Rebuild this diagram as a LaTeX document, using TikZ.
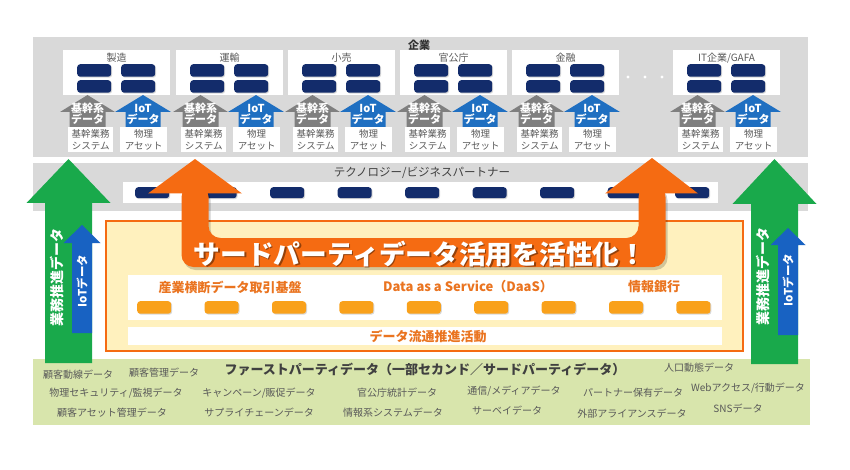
\documentclass[tikz,border=0pt]{standalone}
\usepackage{fontspec}
\setmainfont{Noto Sans CJK JP}
\usetikzlibrary{shadows}
\definecolor{PanelGray}{HTML}{D9D9D9}
\definecolor{Navy}{HTML}{132C6B}
\definecolor{ArrowGray}{HTML}{7F7F7F}
\definecolor{IoTBlue}{HTML}{1F6FC1}
\definecolor{BigGreen}{HTML}{19A94B}
\definecolor{BigBlue}{HTML}{1862C2}
\definecolor{BannerOrange}{HTML}{F56B12}
\definecolor{DashOrange}{HTML}{F9A11B}
\definecolor{PaleYellow}{HTML}{FFF1BE}
\definecolor{PaleGreen}{HTML}{D8E5AC}
\definecolor{TextGray}{HTML}{595959}
\definecolor{LabelOrange}{HTML}{EA7420}
% upward block arrow: colour, centre x, tip y, head base y, bottom y, head half, shaft half
\newcommand{\uparr}[7]{%
  \fill[#1] ({#2-#7},#5) -- ({#2-#7},#4) -- ({#2-#6},#4) -- (#2,#3)
    -- ({#2+#6},#4) -- ({#2+#7},#4) -- ({#2+#7},#5) -- cycle;}

\begin{document}
\begin{tikzpicture}[x=1pt, y=-1pt,
  cobox/.style={rectangle, fill=white, anchor=north west, inner sep=0pt,
                minimum width=107pt, minimum height=45pt},
  cell/.style={rectangle, rounded corners=3pt, fill=Navy, anchor=north west,
               inner sep=0pt, minimum width=34pt, minimum height=12.5pt,
               drop shadow={shadow xshift=1pt, shadow yshift=-1pt, opacity=0.3}},
  odash/.style={cell, fill=DashOrange},
  colabel/.style={font=\fontsize{10}{12}\selectfont, text=TextGray, inner sep=0pt},
  sysbox/.style={rectangle, fill=white, anchor=north west, inner sep=0pt,
                 minimum width=45pt, minimum height=25pt, align=center,
                 font=\fontsize{9.5}{12}\selectfont, text=TextGray},
  arrtext/.style={align=center, text=white, inner sep=0pt,
                  font=\bfseries\fontsize{11}{11}\selectfont},
  olabel/.style={font=\bfseries\fontsize{13}{15}\selectfont, text=LabelOrange, inner sep=0pt},
  datalabel/.style={font=\fontsize{10}{12}\selectfont, text=TextGray, inner sep=0pt}
]
  \useasboundingbox (0,0) rectangle (850,470);

  % companies
  \fill[PanelGray] (33,37) rectangle (808,157);
  \node[font=\bfseries\fontsize{11}{13}\selectfont, text=black!80] (kigyo) at (419,45) {企業};
  \foreach \x/\n [count=\i] in {63/製造,176/運輸,288/小売,400/官公庁,512/金融,673/{IT企業/GAFA}} {
    \node[cobox] (co\i) at (\x,50) {};
    \node[colabel] (con\i) at (\x+53.5,58) {\n};
    \node[cell] (caa\i) at (\x+14,64) {};
    \node[cell] (cab\i) at (\x+58,64) {};
    \node[cell] (cba\i) at (\x+14,80) {};
    \node[cell] (cbb\i) at (\x+58,80) {};
    \uparr{ArrowGray}{\x+24.5}{95}{112}{127}{27.5}{18}
    \uparr{IoTBlue}{\x+80}{95}{112}{127}{28}{17.5}
    \node[sysbox] (sa\i) at (\x+5,127) {基幹業務\\システム};
    \node[sysbox, minimum width=47pt] (sb\i) at (\x+57,127) {物理\\アセット};
    \node[arrtext] (ga\i) at (\x+24.5,114) {基幹系\\データ};
    \node[arrtext] (ba\i) at (\x+80,114) {IoT\\データ};
  }
  \foreach \d in {628,645,662}
    \fill[white] (\d,77) circle[radius=1.6pt];

  % technology partners
  \fill[PanelGray] (33,163) rectangle (808,211);
  \node[font=\fontsize{11.5}{13}\selectfont, text=black!75] (tech) at (422,173) {テクノロジー/ビジネスパートナー};
  \fill[white] (123,182) rectangle (718,203);
  \foreach \i in {0,...,8}
    \node[cell, minimum height=11pt] (td\i) at (135+67.5*\i,187) {};

  % data distribution box
  \filldraw[draw=BannerOrange, line width=2.5pt, fill=PaleYellow] (106,221) rectangle (743,351);
  \fill[white] (128,275) rectangle (722,320);
  \fill[white] (128,327) rectangle (722,345);
  \node[olabel] (sangyo) at (230,287) {産業横断データ取引基盤};
  \node[olabel] (daas) at (468,287) {Data as a Service（DaaS）};
  \node[olabel] (joho) at (654,287) {情報銀行};
  \foreach \i in {0,...,8}
    \node[odash] (od\i) at (137+67.4*\i,301) {};
  \node[olabel] (ryutsu) at (428,336) {データ流通推進活動};

  % first party data
  \fill[PaleGreen] (33,359) rectangle (810,425);
  \node[font=\bfseries\fontsize{13}{15}\selectfont, text=black!75] (fpd) at (425,369)
    {ファーストパーティデータ（一部セカンド／サードパーティデータ）};
  \node[datalabel] (d1) at (78,375) {顧客動線データ};
  \node[datalabel] (d2) at (164,373) {顧客管理データ};
  \node[datalabel] (d3) at (699,368) {人口動態データ};
  \node[datalabel] (d4) at (116,393) {物理セキュリティ/監視データ};
  \node[datalabel] (d5) at (259,393) {キャンペーン/販促データ};
  \node[datalabel] (d6) at (397,393) {官公庁統計データ};
  \node[datalabel] (d7) at (514,391) {通信/メディアデータ};
  \node[datalabel] (d8) at (633,393) {パートナー保有データ};
  \node[datalabel] (d9) at (748,388) {Webアクセス/行動データ};
  \node[datalabel] (d10) at (112,413) {顧客アセット管理データ};
  \node[datalabel] (d11) at (259,413) {サプライチェーンデータ};
  \node[datalabel] (d12) at (393,413) {情報系システムデータ};
  \node[datalabel] (d13) at (507,411) {サーベイデータ};
  \node[datalabel] (d14) at (632,414) {外部アライアンスデータ};
  \node[datalabel] (d15) at (738,409) {SNSデータ};

  % third party banner arrow
  \fill[black, opacity=0.18, xshift=2pt, yshift=-3pt, rounded corners=12pt]
    (181.5,185) -- (181.5,267) -- (665.5,267) -- (665.5,185) -- (638.5,185)
    -- (638.5,238) -- (208.5,238) -- (208.5,185) -- cycle;
  \fill[BannerOrange, rounded corners=12pt]
    (181.5,185) -- (181.5,267) -- (665.5,267) -- (665.5,185) -- (638.5,185)
    -- (638.5,238) -- (208.5,238) -- (208.5,185) -- cycle;
  \fill[BannerOrange] (148,193.5) -- (195,159) -- (242,193.5) -- cycle;
  \fill[BannerOrange] (605,193.5) -- (652,158) -- (698,193.5) -- cycle;
  \node[font=\bfseries\fontsize{26.7}{30}\selectfont, text=black, opacity=0.4] (bannershadow)
    at (421.5,255.5) {サードパーティデータ活用を活性化！};
  \node[font=\bfseries\fontsize{26.7}{30}\selectfont, text=white] (banner)
    at (420,254) {サードパーティデータ活用を活性化！};

  % side arrows
  \uparr{BigGreen}{68.5}{159}{203}{363}{42}{23.5}
  \uparr{BigGreen}{774.5}{159}{204}{364}{42}{23.5}
  \uparr{BigBlue}{82}{225}{243}{333}{18.5}{10}
  \uparr{BigBlue}{788}{228}{245}{335}{17.5}{10}
  \node[rotate=90, font=\bfseries\fontsize{14}{16}\selectfont, text=white] (gyomuL) at (57,277) {業務推進データ};
  \node[rotate=90, font=\bfseries\fontsize{11.5}{13}\selectfont, text=white] (iotL) at (82,281) {IoTデータ};
  \node[rotate=90, font=\bfseries\fontsize{14}{16}\selectfont, text=white] (gyomuR) at (763,276) {業務推進データ};
  \node[rotate=90, font=\bfseries\fontsize{11.5}{13}\selectfont, text=white] (iotR) at (788,280) {IoTデータ};
\end{tikzpicture}
\end{document}
